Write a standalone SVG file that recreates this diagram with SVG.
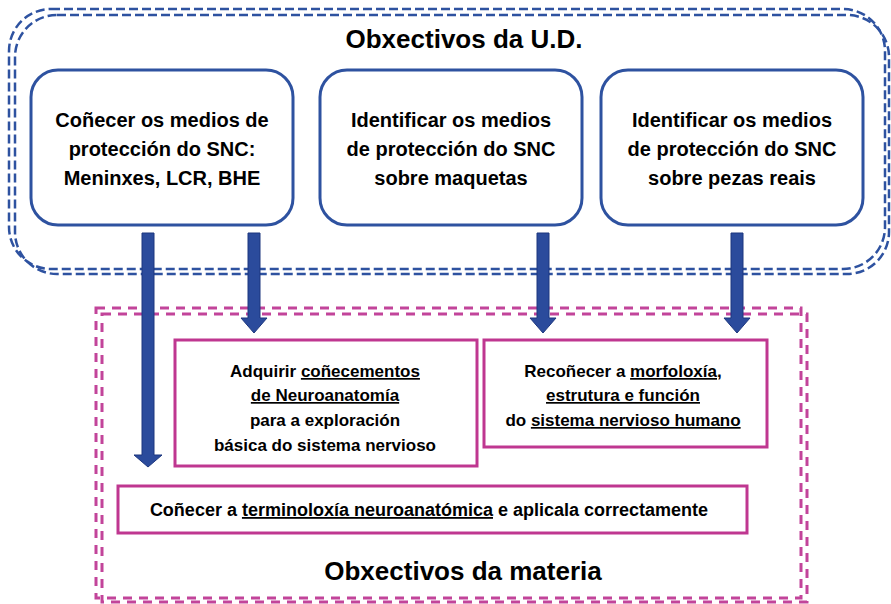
<svg xmlns="http://www.w3.org/2000/svg" width="891" height="604" viewBox="0 0 891 604">
  <style>
    .ud { fill: none; stroke: #2e52a0; stroke-width: 2.5; stroke-dasharray: 9 4; }
    .mat { fill: none; stroke: #c2449a; stroke-width: 3; stroke-dasharray: 9 7; }
    .bbox { fill: #ffffff; stroke: #2e52a0; stroke-width: 3; }
    .mbox { fill: #ffffff; stroke: #bf3790; stroke-width: 3; }
    .arrow { fill: #2b4b9c; stroke: #1d377f; stroke-width: 1; }
    text { font-family: "Liberation Sans", Arial, sans-serif; font-weight: bold; fill: #000000; text-anchor: middle; }
    .title { font-size: 26px; }
    .bt { font-size: 20px; }
    .mt { font-size: 17px; }
    .ct { font-size: 18px; }
  </style>

  <!-- Frames -->
  <g id="frame-ud">
    <rect class="ud" x="9" y="9" width="876" height="260" rx="42" ry="42"/>
    <rect class="ud" x="15" y="15" width="874" height="259" rx="42" ry="42"/>
    <text class="title" x="464" y="48">Obxectivos da U.D.</text>
  </g>
  <g id="frame-materia">
    <rect class="mat" x="96" y="308" width="705" height="290"/>
    <rect class="mat" x="102" y="314" width="705" height="288"/>
    <text class="title" x="463" y="580">Obxectivos da materia</text>
  </g>

  <!-- Top nodes -->
  <g id="ud1">
    <rect class="bbox" x="31" y="70" width="262" height="155" rx="27" ry="27"/>
    <text class="bt" x="162" y="127">Coñecer os medios de</text>
    <text class="bt" x="162" y="156">protección do SNC:</text>
    <text class="bt" x="162" y="185">Meninxes, LCR, BHE</text>
  </g>
  <g id="ud2">
    <rect class="bbox" x="320" y="70" width="262" height="155" rx="27" ry="27"/>
    <text class="bt" x="451" y="127">Identificar os medios</text>
    <text class="bt" x="451" y="156">de protección do SNC</text>
    <text class="bt" x="451" y="185">sobre maquetas</text>
  </g>
  <g id="ud3">
    <rect class="bbox" x="601" y="70" width="262" height="155" rx="27" ry="27"/>
    <text class="bt" x="732" y="127">Identificar os medios</text>
    <text class="bt" x="732" y="156">de protección do SNC</text>
    <text class="bt" x="732" y="185">sobre pezas reais</text>
  </g>

  <!-- Bottom nodes -->
  <g id="mat1">
    <rect class="mbox" x="175" y="340" width="302" height="126"/>
    <text class="mt" x="325" y="377">Adquirir <tspan text-decoration="underline">coñecementos</tspan></text>
    <text class="mt" x="325" y="401"><tspan text-decoration="underline">de Neuroanatomía</tspan></text>
    <text class="mt" x="325" y="426">para a exploración</text>
    <text class="mt" x="325" y="451">básica do sistema nervioso</text>
  </g>
  <g id="mat2">
    <rect class="mbox" x="484" y="340" width="283" height="107"/>
    <text class="mt" x="623" y="377">Recoñecer a <tspan text-decoration="underline">morfoloxía</tspan>,</text>
    <text class="mt" x="623" y="401"><tspan text-decoration="underline">estrutura e función</tspan></text>
    <text class="mt" x="623" y="426">do <tspan text-decoration="underline">sistema nervioso humano</tspan></text>
  </g>
  <g id="mat3">
    <rect class="mbox" x="118" y="486" width="629" height="47"/>
    <text class="ct" x="429" y="516">Coñecer a <tspan text-decoration="underline">terminoloxía neuroanatómica</tspan> e aplicala correctamente</text>
  </g>

  <!-- Connectors -->
  <g id="connectors">
    <path class="arrow" d="M142,233 H154 V455 H162 L148,467 L134,455 H142 Z"/>
    <path class="arrow" d="M248,233 H260 V318 H267 L254,333 L241,318 H248 Z"/>
    <path class="arrow" d="M537,233 H549 V318 H556 L543,333 L530,318 H537 Z"/>
    <path class="arrow" d="M731,233 H743 V318 H750 L737,333 L724,318 H731 Z"/>
  </g>
</svg>
